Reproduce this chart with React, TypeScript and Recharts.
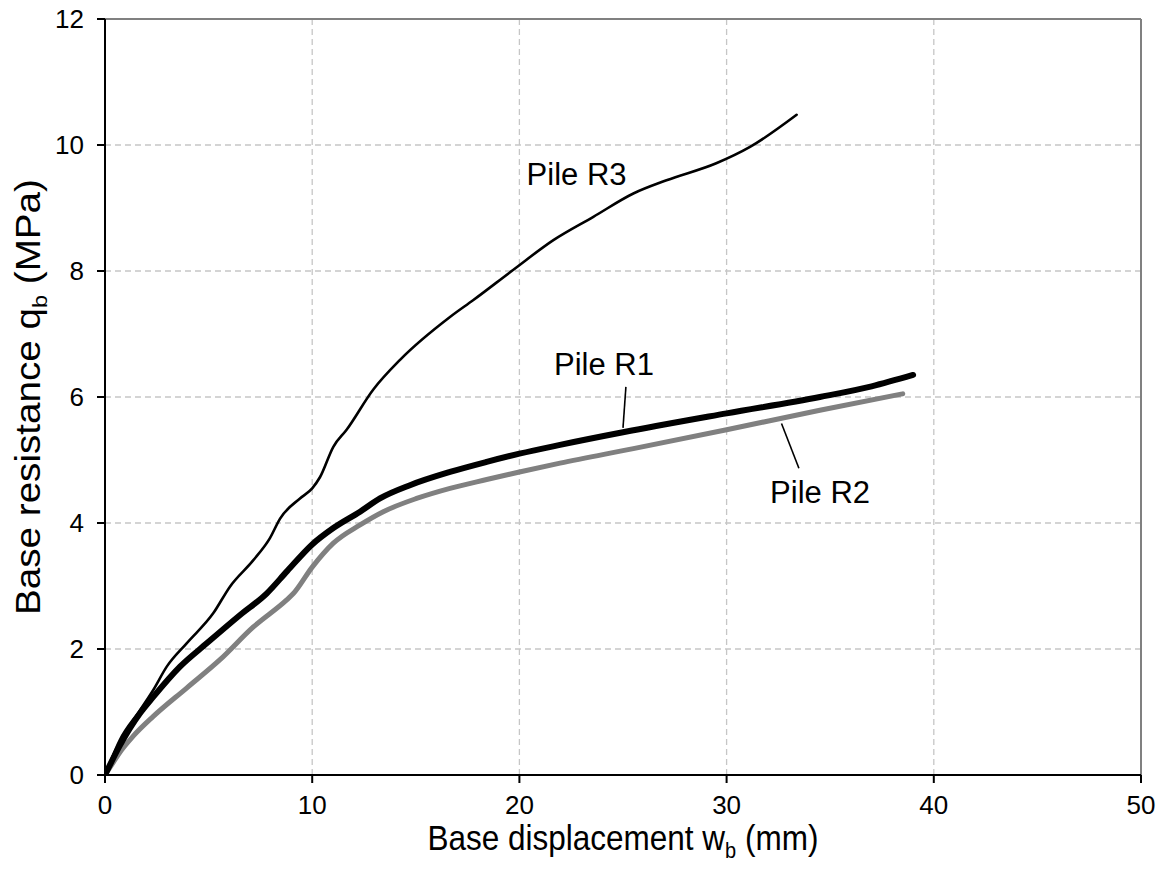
import React from "react";
import {
  LineChart,
  Line,
  XAxis,
  YAxis,
  CartesianGrid,
  ReferenceLine,
  ReferenceDot,
} from "recharts";

// Pile R1 (thick black)
const r1X = [0, 0.72, 1.69, 2.33, 3.62, 4.91, 6.52, 7.8, 8.8, 10.0, 11.02, 12.31, 13.27, 14.72, 16.65, 18.42, 20.0, 21.96, 25.0, 30.0, 34.5, 37.0, 39.0];
const r1Y = [0, 0.47, 0.98, 1.24, 1.72, 2.09, 2.54, 2.88, 3.24, 3.66, 3.92, 4.18, 4.39, 4.6, 4.81, 4.97, 5.1, 5.24, 5.44, 5.74, 6.0, 6.17, 6.35];

// Pile R2 (thick grey)
const r2X = [0, 0.4, 0.72, 1.37, 2.33, 3.94, 5.55, 7.16, 8.77, 9.09, 10.0, 11.02, 12.31, 13.43, 15.04, 16.65, 18.42, 20.0, 21.96, 25.5, 30.0, 34.5, 38.5];
const r2Y = [0, 0.2, 0.36, 0.62, 0.93, 1.38, 1.83, 2.35, 2.78, 2.88, 3.3, 3.68, 3.97, 4.18, 4.39, 4.55, 4.69, 4.81, 4.95, 5.18, 5.48, 5.79, 6.05];

// Pile R3 (thin black)
const r3X = [0, 0.72, 1.69, 2.33, 2.98, 3.94, 5.23, 6.03, 7.16, 7.96, 8.45, 9.41, 10.0, 10.38, 11.02, 11.66, 12.95, 14.24, 16.65, 17.78, 19.71, 21.64, 23.57, 25.5, 27.1, 29.5, 31.13, 33.38];
const r3Y = [0, 0.56, 1.03, 1.35, 1.72, 2.09, 2.57, 2.99, 3.41, 3.76, 4.07, 4.39, 4.55, 4.73, 5.21, 5.48, 6.12, 6.59, 7.27, 7.54, 8.02, 8.49, 8.86, 9.23, 9.44, 9.71, 9.97, 10.48];

const xTicks = [0, 10, 20, 30, 40, 50];
const yTicks = [0, 2, 4, 6, 8, 10, 12];

// annotations
const labelNames = ["Pile R3", "Pile R1", "Pile R2"];
const labelX = [22.76, 24.08, 34.51];
const labelY = [9.365, 6.35, 4.31];

// leader lines
const leaderR1 = [{ x: 25.14, y: 6.16 }, { x: 25.0, y: 5.51 }];
const leaderR2 = [{ x: 32.65, y: 5.58 }, { x: 33.49, y: 4.87 }];

const zip = (xs: number[], ys: number[]) => xs.map((x, i) => ({ x, y: ys[i] }));
const dataR1 = zip(r1X, r1Y);
const dataR2 = zip(r2X, r2Y);
const dataR3 = zip(r3X, r3Y);

const FONT = "'Liberation Sans', Arial, sans-serif";

const XTitle = (props: any) => {
  const vb = props.viewBox;
  const cx = vb.x + vb.width / 2;
  const y = vb.y + 75;
  return (
    <text
      x={0}
      y={0}
      transform={`translate(${cx},${y}) scale(1,1.13)`}
      textAnchor="middle"
      fontFamily={FONT}
      fontSize={31.5}
      fill="#000"
    >
      <tspan>Base displacement w</tspan>
      <tspan fontSize={20} dy={7}>b</tspan>
      <tspan dy={-7}> (mm)</tspan>
    </text>
  );
};

const YTitle = (props: any) => {
  const vb = props.viewBox;
  const x = vb.x + 40;
  const cy = vb.y + vb.height / 2;
  return (
    <text
      x={0}
      y={0}
      transform={`translate(${x},${cy}) rotate(-90) scale(1.12,1)`}
      textAnchor="middle"
      fontFamily={FONT}
      fontSize={34.5}
      fill="#000"
    >
      <tspan>Base resistance q</tspan>
      <tspan fontSize={21} dy={7}>b</tspan>
      <tspan dy={-7}> (MPa)</tspan>
    </text>
  );
};

const makeAnno = (txt: string) => (props: any) => {
  const vb = props.viewBox;
  const cx = vb.x + vb.width / 2;
  const cy = vb.y + vb.height / 2;
  return (
    <text x={cx} y={cy} textAnchor="middle" fontFamily={FONT} fontSize={31} fill="#000">
      {txt}
    </text>
  );
};

export default function App() {
  return (
    <div style={{ position: "absolute", left: 0, top: 0, background: "#fff" }}>
      <LineChart
        width={1164}
        height={874}
        margin={{ top: 19, right: 23, bottom: 0, left: 0 }}
      >
        <CartesianGrid stroke="#c6c6c6" strokeDasharray="6 4" strokeWidth={1.3} />
        <XAxis
          type="number"
          dataKey="x"
          domain={[0, 50]}
          ticks={xTicks}
          allowDataOverflow
          height={99}
          axisLine={{ stroke: "#000", strokeWidth: 2 }}
          tickLine={{ stroke: "#000", strokeWidth: 2 }}
          tickSize={8}
          tickMargin={13}
          tick={{ fill: "#000", fontSize: 26, fontFamily: FONT }}
          label={{ content: XTitle }}
        />
        <YAxis
          type="number"
          domain={[0, 12]}
          ticks={yTicks}
          allowDataOverflow
          width={105}
          axisLine={{ stroke: "#000", strokeWidth: 2 }}
          tickLine={{ stroke: "#000", strokeWidth: 2 }}
          tickSize={8}
          tickMargin={13}
          tick={{ fill: "#000", fontSize: 26, fontFamily: FONT }}
          label={{ content: YTitle }}
        />
        <ReferenceLine y={12} stroke="#808080" strokeWidth={2} />
        <ReferenceLine x={50} stroke="#808080" strokeWidth={2} />
        <Line
          data={dataR2}
          dataKey="y"
          type="monotone"
          stroke="#808080"
          strokeWidth={5}
          strokeLinecap="round"
          dot={false}
          isAnimationActive={false}
        />
        <Line
          data={dataR1}
          dataKey="y"
          type="monotone"
          stroke="#000"
          strokeWidth={6}
          strokeLinecap="round"
          dot={false}
          isAnimationActive={false}
        />
        <Line
          data={dataR3}
          dataKey="y"
          type="monotone"
          stroke="#000"
          strokeWidth={2.6}
          strokeLinecap="round"
          dot={false}
          isAnimationActive={false}
        />
        <ReferenceLine segment={leaderR1} stroke="#000" strokeWidth={1.6} />
        <ReferenceLine segment={leaderR2} stroke="#000" strokeWidth={1.6} />
        {labelNames.map((name, i) => (
          <ReferenceDot
            key={name}
            x={labelX[i]}
            y={labelY[i]}
            r={1}
            fill="none"
            stroke="none"
            label={{ content: makeAnno(name) }}
          />
        ))}
      </LineChart>
    </div>
  );
}
